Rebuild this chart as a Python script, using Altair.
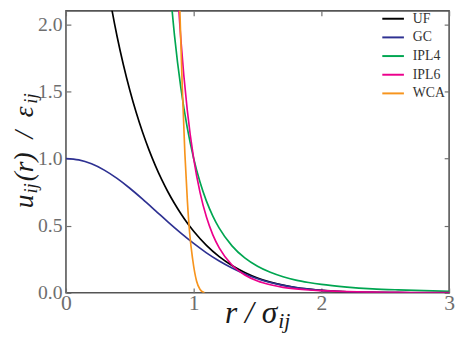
import altair as alt
import pandas as pd

# ---- data ----
series_names = ["UF", "GC", "IPL4", "IPL6", "WCA"]
series_colors = ["#000000", "#2e3192", "#00a651", "#ec008c", "#f7941d"]

r_uf = [0.30, 0.35, 0.40, 0.45, 0.50, 0.55, 0.60, 0.65, 0.70, 0.75, 0.80, 0.85,
        0.90, 0.95, 1.00, 1.10, 1.20, 1.30, 1.40, 1.50, 1.60, 1.70, 1.80, 1.90,
        2.00, 2.20, 2.40, 2.60, 2.80, 3.00]
u_uf = [2.452, 2.160, 1.911, 1.697, 1.509, 1.343, 1.196, 1.065, 0.948, 0.843,
        0.749, 0.665, 0.589, 0.520, 0.459, 0.354, 0.270, 0.204, 0.152, 0.111,
        0.080, 0.057, 0.040, 0.028, 0.018, 0.008, 0.003, 0.001, 0.0004, 0.0001]

r_gc = [0.0, 0.1, 0.2, 0.3, 0.4, 0.5, 0.6, 0.7, 0.8, 0.9, 1.0, 1.1, 1.2, 1.3,
        1.4, 1.5, 1.6, 1.7, 1.8, 1.9, 2.0, 2.1, 2.2, 2.3, 2.4, 2.5, 2.6, 2.8, 3.0]
u_gc = [1.000, 0.990, 0.961, 0.914, 0.852, 0.779, 0.698, 0.613, 0.527, 0.445,
        0.368, 0.298, 0.237, 0.185, 0.141, 0.105, 0.077, 0.056, 0.039, 0.027,
        0.018, 0.012, 0.008, 0.005, 0.003, 0.002, 0.001, 0.0004, 0.0001]

r_ipl4 = [0.80, 0.85, 0.90, 0.95, 1.00, 1.05, 1.10, 1.15, 1.20, 1.30, 1.40, 1.50,
          1.60, 1.70, 1.80, 1.90, 2.00, 2.20, 2.40, 2.60, 2.80, 3.00]
u_ipl4 = [2.441, 1.916, 1.524, 1.228, 1.000, 0.823, 0.683, 0.572, 0.482, 0.350,
          0.260, 0.198, 0.153, 0.120, 0.095, 0.077, 0.0625, 0.043, 0.030, 0.022,
          0.016, 0.012]

r_ipl6 = [0.85, 0.90, 0.95, 1.00, 1.05, 1.10, 1.15, 1.20, 1.30, 1.40, 1.50, 1.60,
          1.70, 1.80, 1.90, 2.00, 2.20, 2.40, 2.60, 2.80, 3.00]
u_ipl6 = [2.652, 1.882, 1.360, 1.000, 0.746, 0.564, 0.432, 0.335, 0.207, 0.133,
          0.088, 0.060, 0.041, 0.029, 0.021, 0.016, 0.009, 0.005, 0.003, 0.002,
          0.0014]

r_wca = [0.880, 0.892, 0.910, 0.931, 0.951, 0.969, 0.992, 1.023, 1.050, 1.085]
u_wca = [2.46, 2.10, 1.55, 1.04, 0.68, 0.44, 0.25, 0.086, 0.025, 0.0]

x_ticks = [0, 1, 2, 3]
y_ticks = [0.0, 0.5, 1.0, 1.5, 2.0]

# axis-title pieces (main text and subscripts)
x_title_main = "r / σ"
x_title_sub = "ij"
y_title_pre = "u"
y_title_sub1 = "ij"
y_title_mid = "(r)\u2002/\u2002ε"
y_title_sub2 = "ij"

rows = []
for name, rs, us in [("UF", r_uf, u_uf), ("GC", r_gc, u_gc), ("IPL4", r_ipl4, u_ipl4),
                     ("IPL6", r_ipl6, u_ipl6), ("WCA", r_wca, u_wca)]:
    for r, u in zip(rs, us):
        rows.append({"series": name, "r": r, "u": u})
df = pd.DataFrame(rows)

SERIF = "Liberation Serif, Times New Roman, serif"
GRAY = "#555555"
LGRAY = "#6e6e6e"
TCOL = "#1a1a1a"

xscale = alt.Scale(domain=[0, 3], nice=False, zero=False)
yscale = alt.Scale(domain=[0, 2.1], nice=False, zero=False)

base = alt.Chart(df)

lines = base.mark_line(clip=True, strokeWidth=1.7, interpolate="monotone").encode(
    x=alt.X("r:Q", scale=xscale,
            axis=alt.Axis(orient="bottom", values=x_ticks, format="d", offset=-5,
                          tickSize=5, tickColor=LGRAY, tickWidth=1.2, domain=False,
                          grid=False, labelFont=SERIF, labelFontSize=22,
                          labelColor=LGRAY, labelPadding=0, labelFlush=False,
                          title=None)),
    y=alt.Y("u:Q", scale=yscale,
            axis=alt.Axis(orient="left", values=y_ticks, format=".1f", offset=-5,
                          tickSize=5, tickColor=LGRAY, tickWidth=1.2, domain=False,
                          grid=False, labelFont=SERIF, labelFontSize=20,
                          labelColor=LGRAY, labelPadding=4, labelFlush=False,
                          title=None)),
    color=alt.Color("series:N",
                    scale=alt.Scale(domain=series_names, range=series_colors),
                    legend=alt.Legend(orient="none", legendX=321, legendY=-4,
                                      title=None, symbolType="stroke",
                                      symbolSize=484, symbolStrokeWidth=2,
                                      labelFont=SERIF, labelFontSize=14,
                                      labelColor="#333333", rowPadding=-5.5,
                                      labelOffset=8, padding=0)),
)

mirror = base.mark_line(opacity=0).encode(
    x=alt.X("r:Q", scale=xscale,
            axis=alt.Axis(orient="top", values=x_ticks, offset=-5, tickSize=5,
                          tickColor=LGRAY, tickWidth=1.2, domain=False, grid=False,
                          labels=False, title=None)),
    y=alt.Y("u:Q", scale=yscale,
            axis=alt.Axis(orient="right", values=y_ticks, offset=-5, tickSize=5,
                          tickColor=LGRAY, tickWidth=1.2, domain=False, grid=False,
                          labels=False, title=None)),
)


def label(text, x, y, size, align, angle=0):
    return alt.Chart(pd.DataFrame({"t": [text]})).mark_text(
        font=SERIF, fontStyle="italic", fontWeight="normal", fontSize=size,
        color=TCOL, align=align, baseline="alphabetic", angle=angle,
    ).encode(text="t:N", x=alt.value(x), y=alt.value(y))


titles = [
    label(x_title_main, 215, 318, 32, "right"),
    label(x_title_sub, 216, 323, 22, "left"),
    label(y_title_pre, -34, 187, 28, "right", 270),
    label(y_title_sub1, -29.5, 186, 19, "left", 270),
    label(y_title_mid, -34, 173.5, 28, "left", 270),
    label(y_title_sub2, -29.5, 94.5, 19, "left", 270),
]

chart = alt.layer(mirror, lines, *titles).resolve_axis(
    x="independent", y="independent"
).properties(
    width=390, height=287,
    autosize=alt.AutoSizeParams(type="none"),
    padding={"left": 59, "top": 0, "right": 6, "bottom": 40},
).configure_view(stroke=GRAY, strokeWidth=1.6)

chart.save("out.html", embed_options={"renderer": "svg", "actions": False})
